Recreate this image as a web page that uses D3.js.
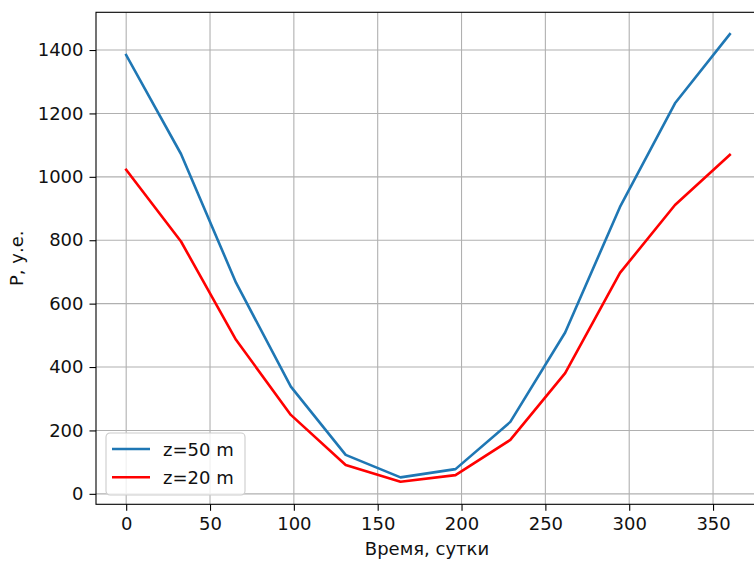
<!DOCTYPE html>
<html>
<head>
<meta charset="utf-8">
<script src="https://cdn.jsdelivr.net/npm/d3@7"></script>
<style>
  body { margin: 0; background: white; }
  text { font-family: "DejaVu Sans", sans-serif; }
</style>
</head>
<body>
<div id="chart"></div>
<script>
// Days along the year
const days = [0, 32.7, 65.5, 98.2, 130.9, 163.6, 196.4, 229.1, 261.8, 294.5, 327.3, 360];
// P values for the two depths
const p50 = [1384, 1072, 666, 338, 123, 52, 78, 227, 509, 905, 1232, 1450];
const p20 = [1022, 796, 486, 249, 91, 38, 59, 170, 381, 697, 911, 1069];
const xTicks = [0, 50, 100, 150, 200, 250, 300, 350];
const yTicks = [0, 200, 400, 600, 800, 1000, 1200, 1400];
const seriesNames = ["z=50 m", "z=20 m"];
const seriesColors = ["#1f77b4", "#ff0000"];

const width = 754, height = 562;
// plot box edges (the right spine sits just past the window edge)
const plotLeft = 96, plotRight = 760, plotTop = 12.3, plotBottom = 504.3;
const fontSize = 18;

const svg = d3.select("#chart").append("svg")
    .attr("width", width)
    .attr("height", height);

const x = d3.scaleLinear().domain([-18, 378]).range([plotLeft, plotRight]);
const y = d3.scaleLinear().domain([-33, 1519]).range([plotBottom, plotTop]);

// grid first so the lines sit on top of it
const grid = svg.append("g").attr("stroke", "#b0b0b0").attr("stroke-width", 1.1);
grid.selectAll(".gx").data(xTicks).enter().append("line")
    .attr("x1", d => x(d)).attr("x2", d => x(d))
    .attr("y1", plotTop).attr("y2", plotBottom);
grid.selectAll(".gy").data(yTicks).enter().append("line")
    .attr("x1", plotLeft).attr("x2", plotRight)
    .attr("y1", d => y(d)).attr("y2", d => y(d));

// the two curves
const line = d3.line().x(d => x(d[0])).y(d => y(d[1]));
[p50, p20].forEach((vals, i) => {
    svg.append("path")
        .datum(days.map((d, j) => [d, vals[j]]))
        .attr("fill", "none")
        .attr("stroke", seriesColors[i])
        .attr("stroke-width", 2.6)
        .attr("stroke-linejoin", "round")
        .attr("stroke-linecap", "square")
        .attr("d", line);
});

// axes, plain integer labels without thousands separators
const xAxis = svg.append("g")
    .attr("transform", `translate(0,${plotBottom})`)
    .call(d3.axisBottom(x).tickValues(xTicks).tickFormat(d3.format("d"))
        .tickSize(6.5).tickPadding(6).tickSizeOuter(0));
const yAxis = svg.append("g")
    .attr("transform", `translate(${plotLeft},0)`)
    .call(d3.axisLeft(y).tickValues(yTicks).tickFormat(d3.format("d"))
        .tickSize(6.5).tickPadding(6).tickSizeOuter(0));
[xAxis, yAxis].forEach(a => {
    a.selectAll("text").style("font-size", fontSize + "px").attr("fill", "#111");
    a.selectAll("line").attr("stroke", "#000").attr("stroke-width", 1.1);
    a.select(".domain").remove();
});

// spines
svg.append("rect")
    .attr("x", plotLeft).attr("y", plotTop)
    .attr("width", plotRight - plotLeft).attr("height", plotBottom - plotTop)
    .attr("fill", "none").attr("stroke", "#000").attr("stroke-width", 1.1);

// axis labels
svg.append("text")
    .attr("x", (plotLeft + 758) / 2)
    .attr("y", 555)
    .attr("text-anchor", "middle")
    .style("font-size", fontSize + "px")
    .attr("fill", "#111")
    .text("Время, сутки");

svg.append("text")
    .attr("transform", `translate(23,${(plotTop + plotBottom) / 2}) rotate(-90)`)
    .attr("text-anchor", "middle")
    .style("font-size", fontSize + "px")
    .attr("fill", "#111")
    .text("P, у.е.");

// legend in the lower left corner
const legend = svg.append("g").attr("transform", "translate(106,433)");
legend.append("rect")
    .attr("width", 139).attr("height", 62)
    .attr("rx", 4)
    .attr("fill", "white").attr("fill-opacity", 0.8)
    .attr("stroke", "#cccccc").attr("stroke-width", 1.1);
const items = legend.selectAll(".item")
    .data(seriesNames)
    .enter().append("g")
    .attr("transform", (d, i) => `translate(0,${16 + i * 28.3})`);
items.append("line")
    .attr("x1", 6).attr("x2", 44)
    .attr("stroke", (d, i) => seriesColors[i])
    .attr("stroke-width", 2.6);
items.append("text")
    .attr("x", 57).attr("y", 6.5)
    .style("font-size", fontSize + "px")
    .attr("fill", "#111")
    .text(d => d);
</script>
</body>
</html>
